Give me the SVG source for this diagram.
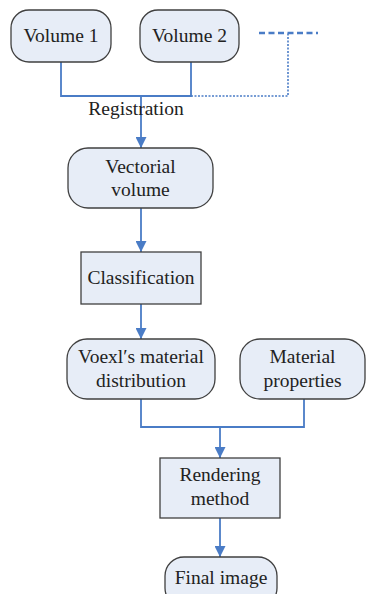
<svg xmlns="http://www.w3.org/2000/svg" width="366" height="594" viewBox="0 0 366 594">
<style>
.n{fill:#e7edf7;stroke:#404040;stroke-width:1.3}
.t{font-family:"Liberation Serif","Times New Roman",serif;font-size:19.5px;fill:#222;text-anchor:middle}
.c{fill:none;stroke:#4a7cc6;stroke-width:1.8}
.d{fill:none;stroke:#4a7cc6;stroke-width:2.6;stroke-dasharray:6 3.5}
.o{fill:none;stroke:#4a7cc6;stroke-width:1.6;stroke-dasharray:2 1.5}
</style>
<defs>
<marker id="a" viewBox="0 0 10 10" refX="10" refY="5" markerWidth="11" markerHeight="11" markerUnits="userSpaceOnUse" orient="auto">
<path d="M0,0 L10,5 L0,10 Z" fill="#4a7cc6"/>
</marker>
</defs>
<rect width="366" height="594" fill="#fff"/>
<g id="connectors">
<path class="c" d="M61,62 V96 H191 V62"/>
<path class="o" d="M191,96 H288 V33"/>
<path class="d" d="M259,33 H318"/>
<path class="c" d="M141,96 V148" marker-end="url(#a)"/>
<path class="c" d="M141,208 V252" marker-end="url(#a)"/>
<path class="c" d="M141,304 V339" marker-end="url(#a)"/>
<path class="c" d="M141,399 V427 H304 V399"/>
<path class="c" d="M220,427 V458" marker-end="url(#a)"/>
<path class="c" d="M220,518 V557" marker-end="url(#a)"/>
</g>
<g id="volume1"><rect class="n" x="11" y="10" width="100" height="52" rx="18"/><text class="t" x="61" y="42">Volume 1</text></g>
<g id="volume2"><rect class="n" x="140" y="10" width="99" height="52" rx="18"/><text class="t" x="189.5" y="42">Volume 2</text></g>
<g id="registration"><text class="t" x="136" y="115">Registration</text></g>
<g id="vectorial"><rect class="n" x="68" y="148" width="145" height="60" rx="20"/><text class="t" x="140.5" y="173">Vectorial</text><text class="t" x="140.5" y="196">volume</text></g>
<g id="classification"><rect class="n" x="81" y="252" width="120" height="52"/><text class="t" x="141" y="284">Classification</text></g>
<g id="voexl"><rect class="n" x="67" y="339" width="148" height="60" rx="20"/><text class="t" x="141" y="363">Voexl′s material</text><text class="t" x="141" y="387">distribution</text></g>
<g id="material"><rect class="n" x="240" y="339" width="125" height="60" rx="20"/><text class="t" x="302.5" y="363">Material</text><text class="t" x="302.5" y="387">properties</text></g>
<g id="rendering"><rect class="n" x="160" y="458" width="120" height="60"/><text class="t" x="220" y="481">Rendering</text><text class="t" x="220" y="505">method</text></g>
<g id="final"><rect class="n" x="165" y="557" width="112" height="50" rx="19"/><text class="t" x="221" y="584">Final image</text></g>
</svg>
